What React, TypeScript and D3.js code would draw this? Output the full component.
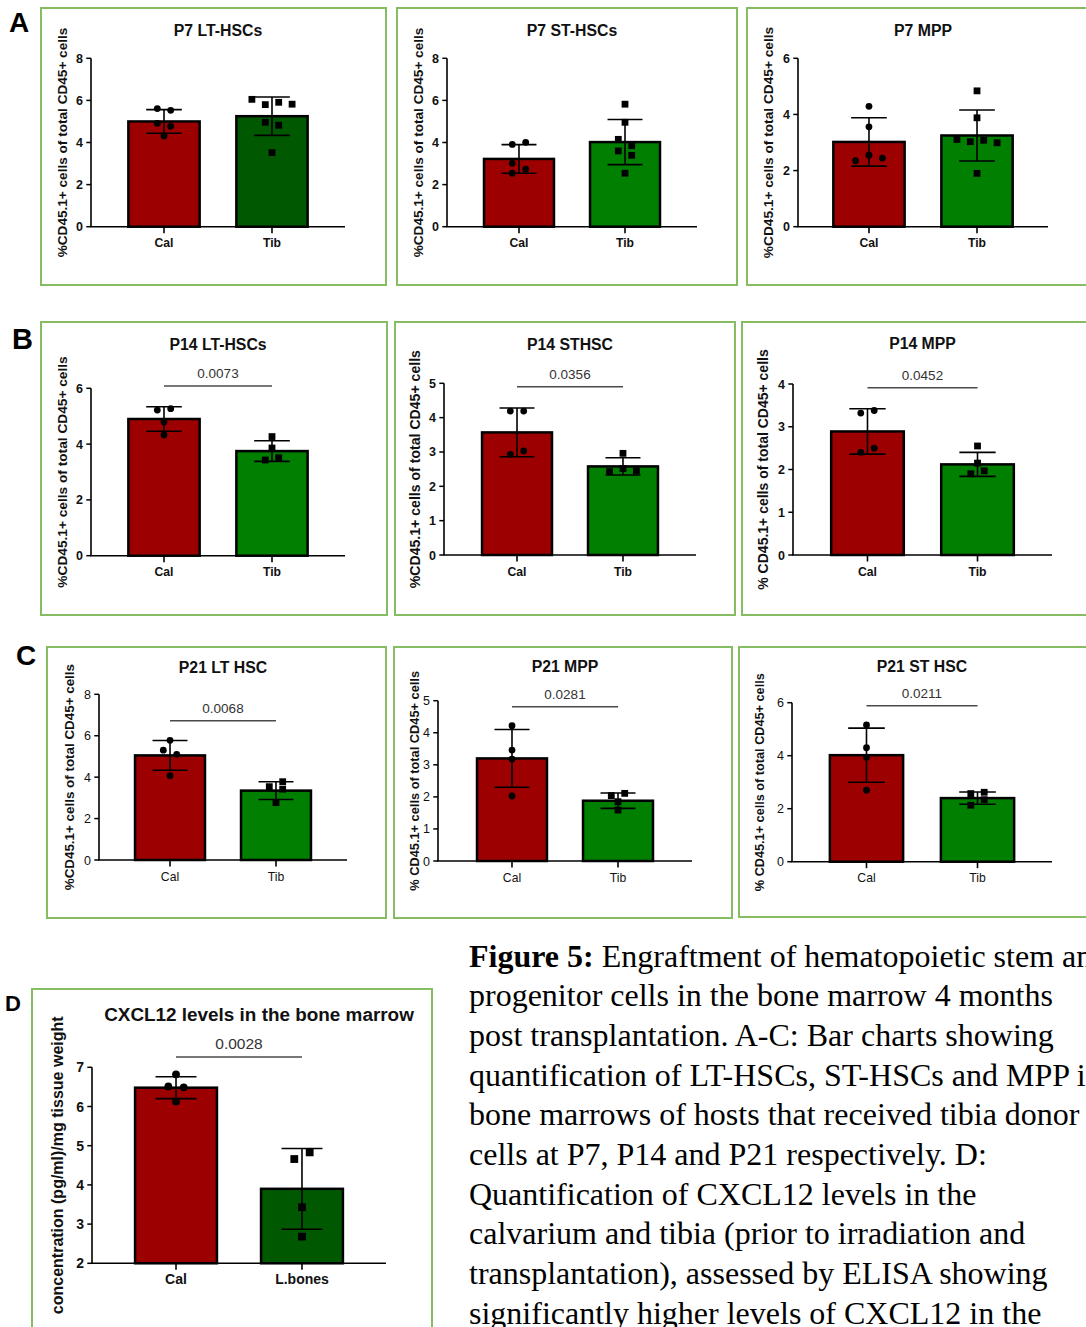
import React from "react";
import * as d3 from "d3";

const SANS = "'Liberation Sans', Arial, Helvetica, sans-serif";
const SERIF = "'Liberation Serif', 'Times New Roman', serif";

const BOX_STROKE = "#86bd63";
const RED = "#9c0000";
const DARK_GREEN = "#005900";
const GREEN = "#007f00";

// Groups on the x axes
const cellGroups = ["Cal", "Tib"];
const cxclGroups = ["Cal", "L.bones"];

// Y tick sets
const ticks0to8 = [0, 2, 4, 6, 8];
const ticks0to6 = [0, 2, 4, 6];
const ticks0to5 = [0, 1, 2, 3, 4, 5];
const ticks0to4 = [0, 1, 2, 3, 4];
const ticks2to7 = [2, 3, 4, 5, 6, 7];

// ---- P7 LT-HSCs ----
const p7LtMean = [5.0, 5.25];
const p7LtSd = [0.56, 0.91];
const p7LtCal = [5.61, 5.53, 4.91, 4.77, 4.31];
const p7LtTib = [6.05, 5.8, 5.91, 5.82, 4.96, 4.82, 3.52];
const p7LtCalSlot = [-1, 1, -1, 1, 0];
const p7LtTibSlot = [-3, -1, 1, 3, -1, 1, 0];

// ---- P7 ST-HSCs ----
const p7StMean = [3.22, 4.02];
const p7StSd = [0.68, 1.07];
const p7StCal = [3.91, 4.01, 3.01, 2.73, 2.54];
const p7StTib = [5.82, 4.96, 4.15, 3.85, 3.6, 3.39, 2.54];
const p7StCalSlot = [-1, 1, -1, 1, -1];
const p7StTibSlot = [0, 0, -1, 1, -1, 1, 0];

// ---- P7 MPP ----
const p7MppMean = [3.02, 3.25];
const p7MppSd = [0.86, 0.91];
const p7MppCal = [4.29, 3.56, 2.55, 2.35, 2.44];
const p7MppTib = [4.84, 3.88, 3.11, 3.03, 3.08, 2.99, 1.9];
const p7MppCalSlot = [0, 0, 0, -2, 2];
const p7MppTibSlot = [0, 0, -3, -1, 1, 3, 0];

// ---- P14 LT-HSCs ----
const p14LtMean = [4.9, 3.75];
const p14LtSd = [0.44, 0.37];
const p14LtCal = [5.22, 5.27, 4.8, 4.33];
const p14LtTib = [4.27, 3.86, 3.43, 3.51];
const p14LtCalSlot = [-1, 1, 0, 0];
const p14LtTibSlot = [0, 0, -1, 1];

// ---- P14 STHSC ----
const p14StMean = [3.57, 2.58];
const p14StSd = [0.71, 0.25];
const p14StCal = [4.19, 4.19, 2.93, 3.03];
const p14StTib = [2.96, 2.52, 2.43, 2.45];
const p14StCalSlot = [-1, 1, -1, 1];
const p14StTibSlot = [0, 0, -2, 2];

// ---- P14 MPP ----
const p14MppMean = [2.89, 2.12];
const p14MppSd = [0.53, 0.28];
const p14MppCal = [3.32, 3.38, 2.4, 2.5];
const p14MppTib = [2.55, 2.15, 1.9, 1.97];
const p14MppCalSlot = [-1, 1, -1, 1];
const p14MppTibSlot = [0, 0, -1, 1];

// ---- P21 LT HSC ----
const p21LtMean = [5.05, 3.35];
const p21LtSd = [0.72, 0.43];
const p21LtCal = [5.78, 5.3, 5.1, 4.07];
const p21LtTib = [3.54, 3.78, 3.42, 2.77];
const p21LtCalSlot = [0, -1, 1, 0];
const p21LtTibSlot = [-1, 1, 1, 0];

// ---- P21 MPP ----
const p21MppMean = [3.2, 1.88];
const p21MppSd = [0.9, 0.24];
const p21MppCal = [4.22, 3.46, 3.18, 2.03];
const p21MppTib = [2.04, 2.11, 1.85, 1.59];
const p21MppCalSlot = [0, 0, 0, 0];
const p21MppTibSlot = [-1, 1, 0, 0];

// ---- P21 ST HSC ----
const p21StMean = [4.02, 2.4];
const p21StSd = [1.02, 0.23];
const p21StCal = [5.16, 4.3, 3.94, 2.7];
const p21StTib = [2.57, 2.62, 2.34, 2.13];
const p21StCalSlot = [0, 0, 0, 0];
const p21StTibSlot = [-1, 1, 1, -1];

// ---- CXCL12 ----
const cxclMean = [6.48, 3.9];
const cxclSd = [0.28, 1.03];
const cxclCal = [6.82, 6.51, 6.49, 6.13];
const cxclLb = [4.66, 4.83, 3.43, 2.68];
const cxclCalSlot = [0, -1, 1, 0];
const cxclLbSlot = [-1, 1, 0, 0];

const cellLabel = "%CD45.1+ cells of total CD45+ cells";
const cellLabelSpaced = "% CD45.1+ cells of total CD45+ cells";

type Frame = { left: number; right: number; top: number; bottom: number };
type PanelSpec = {
  title: string;
  yLabel: string;
  groups: string[];
  mean: number[];
  sd: number[];
  values: number[][];
  slots: number[][];
  ticks: number[];
  pValue?: string;
  fills: string[];
  box: [number, number, number, number];
  frame: Frame;
  pad: number;
  titleY: number;
  titleX?: number;
  sigY?: number;
  yLabelX: number;
  yLabelSize: number;
  boldTicks?: boolean;
  boldGroups?: boolean;
  titleSize?: number;
  tickSize?: number;
  groupSize?: number;
  pSize?: number;
  barFrac?: number;
  dotR?: number;
  slotUnit?: number;
};

const panels: PanelSpec[] = [
  {
    title: "P7 LT-HSCs", yLabel: cellLabel, groups: cellGroups,
    mean: p7LtMean, sd: p7LtSd, values: [p7LtCal, p7LtTib], slots: [p7LtCalSlot, p7LtTibSlot],
    ticks: ticks0to8, fills: [RED, DARK_GREEN],
    box: [41, 8, 345, 277], frame: { left: 91, right: 345, top: 58.3, bottom: 226.7 }, pad: 0.676,
    titleY: 35.5, yLabelX: 66.7, yLabelSize: 13.6,
  },
  {
    title: "P7 ST-HSCs", yLabel: cellLabel, groups: cellGroups,
    mean: p7StMean, sd: p7StSd, values: [p7StCal, p7StTib], slots: [p7StCalSlot, p7StTibSlot],
    ticks: ticks0to8, fills: [RED, GREEN],
    box: [397, 8, 340, 277], frame: { left: 447, right: 697, top: 58.3, bottom: 226.7 }, pad: 0.679,
    titleY: 35.5, yLabelX: 423.3, yLabelSize: 13.6,
  },
  {
    title: "P7 MPP", yLabel: cellLabel, groups: cellGroups,
    mean: p7MppMean, sd: p7MppSd, values: [p7MppCal, p7MppTib], slots: [p7MppCalSlot, p7MppTibSlot],
    ticks: ticks0to6, fills: [RED, GREEN],
    box: [747, 8, 360, 277], frame: { left: 798, right: 1048, top: 58.3, bottom: 226.7 }, pad: 0.657,
    titleY: 35.5, yLabelX: 773.3, yLabelSize: 13.7,
  },
  {
    title: "P14 LT-HSCs", yLabel: cellLabel, groups: cellGroups,
    mean: p14LtMean, sd: p14LtSd, values: [p14LtCal, p14LtTib], slots: [p14LtCalSlot, p14LtTibSlot],
    ticks: ticks0to6, fills: [RED, GREEN], pValue: "0.0073",
    box: [41, 322, 346, 293], frame: { left: 91, right: 345, top: 388.3, bottom: 555.7 }, pad: 0.676,
    titleY: 349.8, sigY: 386, yLabelX: 66.7, yLabelSize: 13.7,
  },
  {
    title: "P14 STHSC", yLabel: cellLabel, groups: cellGroups,
    mean: p14StMean, sd: p14StSd, values: [p14StCal, p14StTib], slots: [p14StCalSlot, p14StTibSlot],
    ticks: ticks0to5, fills: [RED, GREEN], pValue: "0.0356",
    box: [395, 322, 340, 293], frame: { left: 444, right: 696, top: 383.3, bottom: 555 }, pad: 0.689,
    titleY: 350, sigY: 386.7, yLabelX: 420, yLabelSize: 14.1,
  },
  {
    title: "P14 MPP", yLabel: cellLabelSpaced, groups: cellGroups,
    mean: p14MppMean, sd: p14MppSd, values: [p14MppCal, p14MppTib], slots: [p14MppCalSlot, p14MppTibSlot],
    ticks: ticks0to4, fills: [RED, GREEN], pValue: "0.0452",
    box: [742, 322, 360, 293], frame: { left: 793, right: 1052, top: 384, bottom: 555 }, pad: 0.677,
    titleY: 349, sigY: 387.7, yLabelX: 768, yLabelSize: 14,
  },
  {
    title: "P21 LT HSC", yLabel: cellLabel, groups: cellGroups,
    mean: p21LtMean, sd: p21LtSd, values: [p21LtCal, p21LtTib], slots: [p21LtCalSlot, p21LtTibSlot],
    ticks: ticks0to8, fills: [RED, GREEN], pValue: "0.0068",
    box: [47, 647, 339, 271], frame: { left: 99, right: 347, top: 694.3, bottom: 860 }, pad: 0.67,
    titleY: 672.5, sigY: 720.7, yLabelX: 74, yLabelSize: 13.4, boldTicks: false, boldGroups: false,
  },
  {
    title: "P21 MPP", yLabel: cellLabelSpaced, groups: cellGroups,
    mean: p21MppMean, sd: p21MppSd, values: [p21MppCal, p21MppTib], slots: [p21MppCalSlot, p21MppTibSlot],
    ticks: ticks0to5, fills: [RED, GREEN], pValue: "0.0281",
    box: [394, 647, 338, 271], frame: { left: 438, right: 692, top: 700.7, bottom: 861 }, pad: 0.698,
    titleY: 671.5, sigY: 706.7, yLabelX: 419.3, yLabelSize: 12.8, boldTicks: false, boldGroups: false,
  },
  {
    title: "P21 ST HSC", yLabel: cellLabelSpaced, groups: cellGroups,
    mean: p21StMean, sd: p21StSd, values: [p21StCal, p21StTib], slots: [p21StCalSlot, p21StTibSlot],
    ticks: ticks0to6, fills: [RED, GREEN], pValue: "0.0211",
    box: [739, 647, 360, 270], frame: { left: 792, right: 1052, top: 702.7, bottom: 861.7 }, pad: 0.671,
    titleY: 671.5, sigY: 705.7, yLabelX: 764.3, yLabelSize: 12.7, boldTicks: false, boldGroups: false,
  },
  {
    title: "CXCL12 levels in the bone marrow", yLabel: "concentration (pg/ml)/mg tissue weight",
    groups: cxclGroups,
    mean: cxclMean, sd: cxclSd, values: [cxclCal, cxclLb], slots: [cxclCalSlot, cxclLbSlot],
    ticks: ticks2to7, fills: [RED, DARK_GREEN], pValue: "0.0028",
    box: [32, 989, 400, 360], frame: { left: 92, right: 386, top: 1067.3, bottom: 1263.3 }, pad: 0.667,
    titleY: 1020.5, titleX: 259, sigY: 1057, yLabelX: 63, yLabelSize: 16,
    titleSize: 18.9, tickSize: 14, groupSize: 14, pSize: 15.5,
    barFrac: 0.65, dotR: 3.9, slotUnit: 7.7,
  },
];

const panelLetters = ["A", "B", "C", "D"];
const letterPos: [number, number, number][] = [
  [9, 32, 28],
  [12, 348.5, 29],
  [16, 665, 28],
  [5, 1010.5, 22],
];

const captionLead = "Figure 5:";
const captionLines = [
  " Engraftment of hematopoietic stem and",
  "progenitor cells in the bone marrow 4 months",
  "post transplantation. A-C: Bar charts showing",
  "quantification of LT-HSCs, ST-HSCs and MPP in",
  "bone marrows of hosts that received tibia donor",
  "cells at P7, P14 and P21 respectively. D:",
  "Quantification of CXCL12 levels in the",
  "calvarium and tibia (prior to irradiation and",
  "transplantation), assessed by ELISA showing",
  "significantly higher levels of CXCL12 in the",
];

function Panel({ s }: { s: PanelSpec }) {
  const titleSize = s.titleSize ?? 15.8;
  const tickSize = s.tickSize ?? 12.5;
  const groupSize = s.groupSize ?? 12.2;
  const pSize = s.pSize ?? 13.5;
  const barFrac = s.barFrac ?? 0.66;
  const dotR = s.dotR ?? 3.4;
  const slotUnit = s.slotUnit ?? 6.7;
  const boldTicks = s.boldTicks ?? true;
  const boldGroups = s.boldGroups ?? true;

  const lo = s.ticks[0];
  const hi = s.ticks[s.ticks.length - 1];
  const y = d3.scaleLinear().domain([lo, hi]).range([s.frame.bottom, s.frame.top]);
  const x = d3.scalePoint<string>().domain(s.groups).range([s.frame.left, s.frame.right]).padding(s.pad);
  const bw = x.step() * barFrac;
  const cap = bw / 2;
  const base = y(lo);
  const midY = (s.frame.top + s.frame.bottom) / 2;
  const titleX = s.titleX ?? (s.frame.left + s.frame.right) / 2;
  const c0 = x(s.groups[0])!;
  const c1 = x(s.groups[1])!;

  return (
    <g>
      <rect x={s.box[0]} y={s.box[1]} width={s.box[2]} height={s.box[3]}
        fill="none" stroke={BOX_STROKE} strokeWidth={2} />
      <text x={titleX} y={s.titleY} textAnchor="middle" fontFamily={SANS} fontWeight="bold"
        fontSize={titleSize} fill="#111">
        {s.title}
      </text>
      <text transform={`translate(${s.yLabelX},${midY}) rotate(-90)`} textAnchor="middle"
        fontFamily={SANS} fontWeight="bold" fontSize={s.yLabelSize} fill="#111">
        {s.yLabel}
      </text>

      {/* bars */}
      {s.groups.map((g, i) => (
        <rect key={g} x={x(g)! - bw / 2} y={y(s.mean[i])} width={bw} height={base - y(s.mean[i])}
          fill={s.fills[i]} stroke="#000" strokeWidth={2.5} />
      ))}

      {/* axes */}
      <line x1={s.frame.left} x2={s.frame.left} y1={y(hi)} y2={base} stroke="#000" strokeWidth={1.6} />
      <line x1={s.frame.left - 0.8} x2={s.frame.right} y1={base} y2={base} stroke="#000" strokeWidth={1.6} />
      {s.ticks.map((t) => (
        <g key={t}>
          <line x1={s.frame.left - 4.7} x2={s.frame.left} y1={y(t)} y2={y(t)} stroke="#000" strokeWidth={1.5} />
          <text x={s.frame.left - 8} y={y(t)} dy="0.36em" textAnchor="end" fontFamily={SANS}
            fontWeight={boldTicks ? "bold" : "normal"} fontSize={tickSize} fill="#111">
            {t}
          </text>
        </g>
      ))}
      {s.groups.map((g) => (
        <g key={g}>
          <line x1={x(g)} x2={x(g)} y1={base} y2={base + 6.5} stroke="#000" strokeWidth={1.6} />
          <text x={x(g)} y={base + 20.5} textAnchor="middle" fontFamily={SANS}
            fontWeight={boldGroups ? "bold" : "normal"} fontSize={groupSize} fill="#111">
            {g}
          </text>
        </g>
      ))}

      {/* error bars (mean ± SD) */}
      {s.groups.map((g, i) => {
        const cx = x(g)!;
        const top = y(s.mean[i] + s.sd[i]);
        const bot = y(s.mean[i] - s.sd[i]);
        return (
          <g key={g} stroke="#000" strokeWidth={1.6}>
            <line x1={cx} x2={cx} y1={top} y2={bot} />
            <line x1={cx - cap / 2} x2={cx + cap / 2} y1={top} y2={top} />
            <line x1={cx - cap / 2} x2={cx + cap / 2} y1={bot} y2={bot} />
          </g>
        );
      })}

      {/* individual animals */}
      {s.values[0].map((v, j) => (
        <circle key={`c${j}`} cx={c0 + s.slots[0][j] * slotUnit} cy={y(v)} r={dotR} fill="#000" />
      ))}
      {s.values[1].map((v, j) => (
        <rect key={`s${j}`} x={c1 + s.slots[1][j] * slotUnit - dotR} y={y(v) - dotR}
          width={dotR * 2} height={dotR * 2} fill="#000" />
      ))}

      {/* significance */}
      {s.pValue && s.sigY !== undefined && (
        <g>
          <line x1={c0} x2={c1} y1={s.sigY} y2={s.sigY} stroke="#4a4a4a" strokeWidth={1.5} />
          <text x={(c0 + c1) / 2} y={s.sigY - 8} textAnchor="middle" fontFamily={SANS}
            fontSize={pSize} fill="#333">
            {s.pValue}
          </text>
        </g>
      )}
    </g>
  );
}

export default function App() {
  return (
    <svg width={1086} height={1327} viewBox="0 0 1086 1327"
      style={{ position: "absolute", left: 0, top: 0, background: "#fff" }}>
      <rect x={0} y={0} width={1086} height={1327} fill="#fff" />
      {panels.map((p, i) => (
        <Panel key={i} s={p} />
      ))}
      {panelLetters.map((l, i) => (
        <text key={l} x={letterPos[i][0]} y={letterPos[i][1]} fontFamily={SANS}
          fontWeight="bold" fontSize={letterPos[i][2]} fill="#000">
          {l}
        </text>
      ))}
      {captionLines.map((line, i) => (
        <text key={i} x={469} y={966.5 + i * 39.67}
          fontFamily={SERIF} fontSize={32} fill="#000" style={{ whiteSpace: "pre" }}>
          {i === 0 && <tspan fontWeight="bold">{captionLead}</tspan>}
          {line}
        </text>
      ))}
    </svg>
  );
}
